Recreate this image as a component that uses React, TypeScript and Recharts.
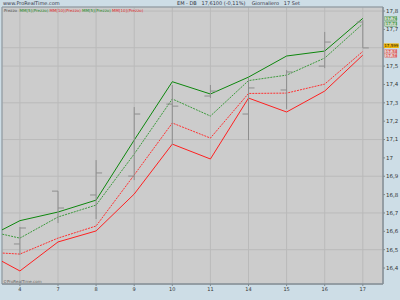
import React from "react";
import {
  ComposedChart,
  Line,
  Scatter,
  ErrorBar,
  XAxis,
  YAxis,
  CartesianGrid,
  ReferenceArea,
  ReferenceDot,
} from "recharts";

// session index (-1 = 3 Sep, only partly visible at the left edge)
const sessions = [-1, 0, 1, 2, 3, 4, 5, 6, 7, 8, 9];
const dayLabels = ["4", "7", "8", "9", "10", "11", "14", "15", "16", "17"];

// moving averages
const greenSolid = [16.551, 16.658, 16.705, 16.77, 17.097, 17.415, 17.348, 17.44, 17.555, 17.582, 17.76];
const greenDotted = [16.609, 16.563, 16.678, 16.743, 17.021, 17.321, 17.228, 17.421, 17.451, 17.544, 17.73];
const redDotted = [16.488, 16.476, 16.563, 16.629, 16.907, 17.19, 17.108, 17.351, 17.353, 17.402, 17.58];
const redSolid = [16.496, 16.384, 16.542, 16.602, 16.803, 17.075, 16.994, 17.326, 17.25, 17.364, 17.56];

// daily bars
const opens = [16.531, 16.819, 16.798, 16.901, 17.293, 17.337, 17.239, 17.37, 17.5, 17.74];
const highs = [16.623, 16.819, 16.988, 17.277, 17.397, 17.397, 17.435, 17.479, 17.686, 17.751];
const lows = [16.471, 16.645, 16.667, 16.879, 17.07, 17.326, 17.097, 17.266, 17.489, 17.599];
const closes = [16.618, 16.727, 16.918, 17.239, 17.282, 17.364, 17.381, 17.468, 17.631, 17.599];

const priceTicks = [16.4, 16.5, 16.6, 16.7, 16.8, 16.9, 17, 17.1, 17.2, 17.3, 17.4, 17.5, 17.6, 17.7, 17.8];
const xTicks = [0, 1, 2, 3, 4, 5, 6, 7, 8, 9];
const xDomain: [number, number] = [-0.47, 9.53];
const yDomain: [number, number] = [16.313, 17.822];

const lineData = sessions.map((i, k) => ({
  i,
  gs: greenSolid[k],
  gd: greenDotted[k],
  rd: redDotted[k],
  rs: redSolid[k],
}));

const barData = opens.map((o, k) => ({
  i: k,
  open: o,
  close: closes[k],
  err: [closes[k] - lows[k], highs[k] - closes[k]],
}));

const lastBar = barData.length - 1;

// 17,6 sits under the last-price box, so its label is left blank
const fmt = (v: number) => {
  if (Math.abs(v - 17.6) < 1e-6) return "";
  const s = v.toFixed(1);
  return (s.endsWith(".0") ? s.slice(0, -2) : s).replace(".", ",");
};

const FONT = "DejaVu Sans, sans-serif";
const BAR = "#8e8e8e";
const lastIdx = sessions.length - 1;

const tag = (text: string, color: string, bg: string, border: string) => (props: any) => {
  if (props.index !== lastIdx) return null;
  const x = props.x + 22;
  const y = props.y;
  return (
    <g>
      <rect x={x} y={y - 2} width={12} height={4.5} fill={bg} stroke={border} strokeWidth={0.5} />
      <text x={x + 1} y={y + 1.6} fontSize={4} fontFamily={FONT} fill={color}>
        {text}
      </text>
    </g>
  );
};

const PriceTag = (props: any) => {
  const vb = props.viewBox || {};
  const x = vb.x + (vb.width || 0) / 2 + 21;
  const y = vb.y + (vb.height || 0) / 2;
  return (
    <g>
      <rect x={x} y={y - 4.5} width={15} height={4.5} fill="#f0b400" />
      <text x={x + 0.5} y={y - 0.9} fontSize={4} fontFamily={FONT} fill="#222">
        17,599
      </text>
    </g>
  );
};

const OpenTick = (p: any) => (
  <line x1={p.cx - 6} x2={p.cx} y1={p.cy} y2={p.cy} stroke={BAR} strokeWidth={1} />
);

const CloseTick = (p: any) => (
  <line x1={p.cx} x2={p.cx + 6} y1={p.cy} y2={p.cy} stroke={BAR} strokeWidth={1} />
);

export default function App() {
  return (
    <div style={{ position: "absolute", left: 0, top: 0, width: 400, height: 300, background: "#cddde6", fontFamily: FONT }}>
      <ComposedChart width={400} height={300} data={lineData} margin={{ top: 7, right: 0, left: 2, bottom: 0 }}>
        <CartesianGrid fill="#cccccc" stroke="#bababa" />
        <ReferenceArea x1={xDomain[0]} x2={xDomain[1]} y1={yDomain[0]} y2={yDomain[1]} fill="none" stroke="#8a98a2" />
        <XAxis
          type="number"
          dataKey="i"
          domain={xDomain}
          allowDataOverflow
          ticks={xTicks}
          tickFormatter={(v) => dayLabels[v] ?? ""}
          tick={{ fontSize: 5, fill: "#333", fontFamily: FONT }}
          tickSize={2}
          tickMargin={1}
          height={16}
          stroke="#808a90"
        />
        <YAxis
          orientation="right"
          domain={yDomain}
          allowDataOverflow
          ticks={priceTicks}
          tickFormatter={fmt}
          tick={{ fontSize: 5.5, fill: "#333", fontFamily: FONT }}
          tickSize={2}
          tickMargin={1}
          width={17}
          stroke="#808a90"
        />
        <Line dataKey="gs" stroke="#0d870d" strokeWidth={1} dot={false} isAnimationActive={false}
          label={tag("17,76", "#1a8a1a", "#c6d6c6", "#5a9a5a")} />
        <Line dataKey="gd" stroke="#3d9a3d" strokeWidth={1} strokeDasharray="2 1" dot={false} isAnimationActive={false}
          label={tag("17,73", "#1a8a1a", "#c6d6c6", "#5a9a5a")} />
        <Line dataKey="rd" stroke="#ff3030" strokeWidth={1} strokeDasharray="2 1" dot={false} isAnimationActive={false}
          label={tag("17,58", "#e02020", "#e6cccc", "#d07070")} />
        <Line dataKey="rs" stroke="#ff2020" strokeWidth={1} dot={false} isAnimationActive={false}
          label={tag("17,56", "#e02020", "#e6cccc", "#d07070")} />
        <Scatter data={barData} dataKey="open" shape={OpenTick} isAnimationActive={false} />
        <Scatter data={barData} dataKey="close" shape={CloseTick} isAnimationActive={false}>
          <ErrorBar dataKey="err" direction="y" width={0} stroke={BAR} strokeWidth={1} />
        </Scatter>
        <ReferenceDot
          x={lastBar}
          y={closes[lastBar]}
          r={0}
          fill="none"
          stroke="none"
          ifOverflow="visible"
          label={<PriceTag />}
        />
      </ComposedChart>
      <div style={{ position: "absolute", left: 3, top: 0, fontSize: 5, color: "#334", lineHeight: "7px" }}>
        www.ProRealTime.com
      </div>
      <div style={{ position: "absolute", left: 177, top: 0, fontSize: 5, color: "#334", lineHeight: "7px", whiteSpace: "pre" }}>
        {"EM - DB   17,6100 (-0,11%)    Giornaliero   17 Set"}
      </div>
      <div style={{ position: "absolute", left: 4, top: 8, fontSize: 4, lineHeight: "5px", whiteSpace: "pre" }}>
        <span style={{ color: "#555" }}>Prezzo  </span>
        <span style={{ color: "#2a8a2a" }}>MM[5](Prezzo) </span>
        <span style={{ color: "#e03030" }}>MM[10](Prezzo) </span>
        <span style={{ color: "#2a8a2a" }}>MM[5](Prezzo) </span>
        <span style={{ color: "#e03030" }}>MM[10](Prezzo)</span>
      </div>
      <div style={{ position: "absolute", left: 3, top: 279, fontSize: 4, lineHeight: "5px", color: "#666" }}>
        ©ProRealTime.com
      </div>
    </div>
  );
}
